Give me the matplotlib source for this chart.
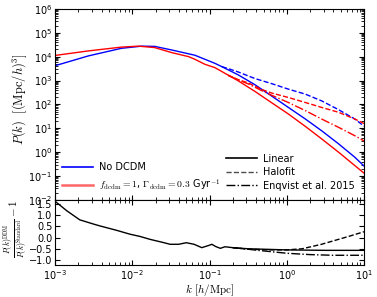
import matplotlib
matplotlib.use("Agg")
import matplotlib.pyplot as plt
from matplotlib.lines import Line2D
import numpy as np

# top panel: log10 k, log10 P(k)
lk_std = [-3.0, -2.57, -2.14, -1.88, -1.71, -1.49, -1.30, -1.19, -1.06, -0.93, -0.84,
          -0.63, -0.41, -0.20, 0.02, 0.24, 0.45, 0.67, 0.88, 1.0]
lp_std = [3.62, 4.03, 4.35, 4.44, 4.43, 4.28, 4.14, 4.06, 3.89, 3.72, 3.58,
          3.24, 2.82, 2.36, 1.875, 1.39, 0.90, 0.35, -0.21, -0.58]

lk_ddm = [-3.0, -2.57, -2.14, -1.92, -1.71, -1.49, -1.27, -1.19, -1.06, -0.93, -0.84,
          -0.63, -0.41, -0.20, 0.02, 0.24, 0.45, 0.67, 0.88, 1.0]
lp_ddm = [4.05, 4.24, 4.40, 4.44, 4.38, 4.17, 4.00, 3.89, 3.68, 3.54, 3.375,
          2.99, 2.54, 2.08, 1.60, 1.08, 0.56, 0.0, -0.56, -0.88]

lk_std_hf = [-0.84, -0.76, -0.63, -0.41, -0.20, 0.02, 0.24, 0.45, 0.67, 0.88, 1.0]
lp_std_hf = [3.58, 3.50, 3.36, 3.08, 2.875, 2.64, 2.43, 2.15, 1.78, 1.39, 1.09]

lk_ddm_hf = [-0.76, -0.63, -0.50, -0.32, -0.20, 0.02, 0.24, 0.45, 0.67, 0.88, 1.0]
lp_ddm_hf = [3.22, 3.04, 2.90, 2.62, 2.48, 2.29, 2.08, 1.875, 1.67, 1.39, 1.20]

lk_ddm_eq = [-0.76, -0.63, -0.50, -0.32, -0.20, 0.02, 0.24, 0.45, 0.67, 0.88, 1.0]
lp_ddm_eq = [3.22, 3.03, 2.86, 2.57, 2.39, 2.08, 1.74, 1.39, 1.04, 0.69, 0.47]

# bottom panel: P_DDM / P_standard - 1
lk_r = [-3.0, -2.85, -2.68, -2.5, -2.42, -2.2, -2.03, -1.9, -1.77, -1.6, -1.51, -1.4,
        -1.3, -1.2, -1.1, -1.0, -0.97, -0.92, -0.86, -0.8, -0.7, -0.5, 0.0, 0.5, 1.0]
r_lin = [1.62, 1.2, 0.79, 0.6, 0.52, 0.32, 0.15, 0.05, -0.08, -0.22, -0.3, -0.3,
         -0.23, -0.3, -0.45, -0.34, -0.3, -0.4, -0.48, -0.41, -0.45, -0.5, -0.55, -0.57, -0.57]

lk_r_hf = [-0.7, -0.5, -0.2, 0.0, 0.2, 0.3, 0.45, 0.6, 0.8, 1.0]
r_hf = [-0.45, -0.52, -0.55, -0.55, -0.5, -0.42, -0.3, -0.15, 0.05, 0.26]

lk_r_eq = [-0.7, -0.55, -0.4, -0.2, 0.0, 0.3, 0.6, 1.0]
r_eq = [-0.45, -0.5, -0.56, -0.63, -0.7, -0.76, -0.79, -0.79]

plt.rcParams['font.size'] = 7
plt.rcParams['xtick.direction'] = 'in'
plt.rcParams['ytick.direction'] = 'in'
plt.rcParams['xtick.top'] = True
plt.rcParams['ytick.right'] = True
plt.rcParams['xtick.major.pad'] = 2.5
plt.rcParams['ytick.major.pad'] = 2

fig = plt.figure(figsize=(3.77, 2.97), dpi=100)
ax1 = fig.add_axes([0.146, 0.327, 0.8195, 0.643])
ax2 = fig.add_axes([0.146, 0.108, 0.8195, 0.219], sharex=ax1)

def k(a):
    return 10 ** np.array(a)

lw = 1.0
ax1.plot(k(lk_std), k(lp_std), color='b', lw=lw)
ax1.plot(k(lk_ddm), k(lp_ddm), color='r', lw=lw)
ax1.plot(k(lk_std_hf), k(lp_std_hf), color='b', lw=lw, ls='--')
ax1.plot(k(lk_ddm_hf), k(lp_ddm_hf), color='r', lw=lw, ls='--')
ax1.plot(k(lk_ddm_eq), k(lp_ddm_eq), color='r', lw=lw, ls='-.')
ax1.set_xscale('log')
ax1.set_yscale('log')
ax1.set_xlim(1e-3, 10)
ax1.set_ylim(1e-2, 1e6)
ax1.tick_params(labelbottom=False)
ax1.set_ylabel(r'$P(k)\ \ [({\rm Mpc}/h)^3]$', math_fontfamily='cm', fontsize=9)
ax1.yaxis.set_label_coords(-0.085, 0.53)

h1 = [Line2D([], [], color='b', lw=1.2), Line2D([], [], color='r', lw=1.8, alpha=0.6)]
leg1 = ax1.legend(h1, ['No DCDM', r'$f_{\rm dcdm}=1$, $\Gamma_{\rm dcdm}=0.3$ Gyr$^{-1}$'],
                  loc='lower left', frameon=False, fontsize=7, handlelength=3.2,
                  borderaxespad=0.3, labelspacing=0.55, handletextpad=0.6)
for t in leg1.get_texts():
    t.set_math_fontfamily('cm')
ax1.add_artist(leg1)
h2 = [Line2D([], [], color='k', lw=1.2, ls='-'),
      Line2D([], [], color='k', lw=1.0, ls='--', alpha=0.7),
      Line2D([], [], color='k', lw=1.0, ls='-.')]
ax1.legend(h2, ['Linear', 'Halofit', 'Enqvist et al. 2015'], loc='lower right',
           frameon=False, fontsize=7, handlelength=3.2, borderaxespad=0.55,
           labelspacing=0.35, handletextpad=0.6)

ax2.plot(k(lk_r), r_lin, color='k', lw=lw)
ax2.plot(k(lk_r_hf), r_hf, color='k', lw=lw, ls='--')
ax2.plot(k(lk_r_eq), r_eq, color='k', lw=lw, ls='-.')
ax2.set_ylim(-1.22, 1.68)
ax2.set_yticks([-1.0, -0.5, 0.0, 0.5, 1.0, 1.5])
ax2.set_xlim(1e-3, 10)
ax2.set_xlabel(r'$k\ [h/{\rm Mpc}]$', math_fontfamily='cm', fontsize=8, labelpad=0)
ax2.set_ylabel(r'$\frac{P(k)^{\rm DDM}}{P(k)^{\rm Standard}}-1$', math_fontfamily='cm',
               fontsize=8)
ax2.yaxis.set_label_coords(-0.085, 0.55)

fig.savefig('out.png', dpi=100)
